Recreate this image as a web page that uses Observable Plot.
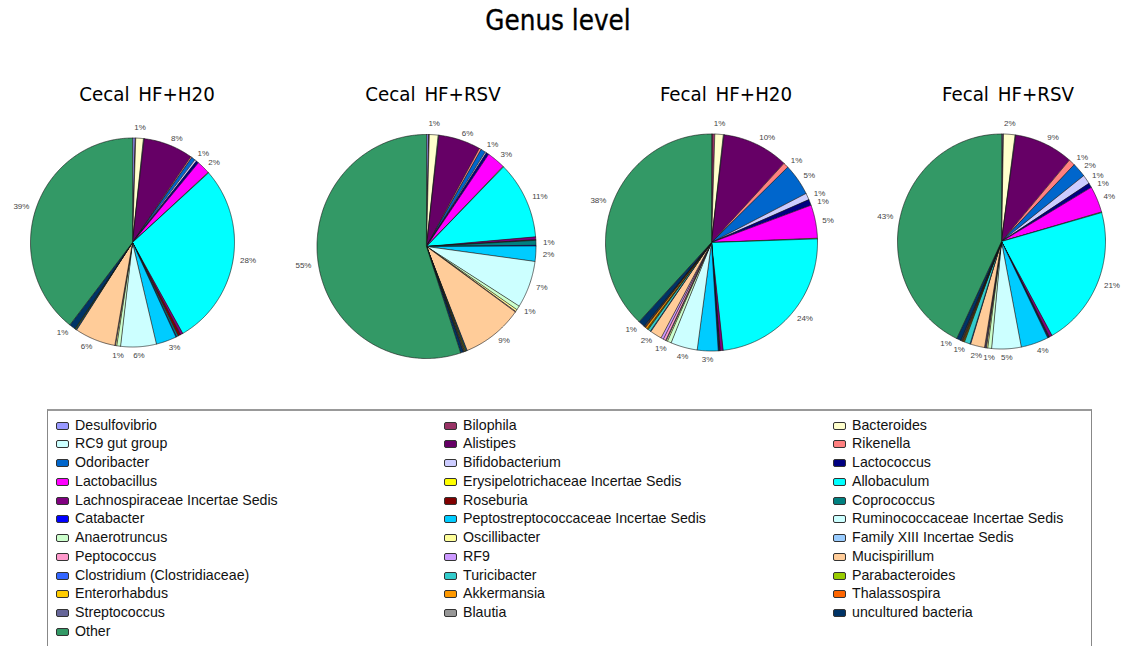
<!DOCTYPE html>
<html><head><meta charset="utf-8">
<script src="https://cdn.jsdelivr.net/npm/d3@7"></script>
<script src="https://cdn.jsdelivr.net/npm/@observablehq/plot@0.6"></script>
<style>
body{margin:0;background:#fff;}
#page{position:relative;width:1123px;height:646px;overflow:hidden;background:#fff;}
.ttl{position:absolute;font-family:"DejaVu Sans Condensed","DejaVu Sans",sans-serif;color:#000;white-space:nowrap;transform:translateX(-50%);line-height:1;}
.pie{position:absolute;}
.pie svg{max-width:none !important;}
#legend{position:absolute;left:47px;top:409px;width:1045px;height:260px;border:1px solid #888;border-top:2px solid #999;box-sizing:border-box;background:#fff;}
.li{position:absolute;font-family:Arial,"Liberation Sans",sans-serif;font-size:14.2px;color:#111;white-space:nowrap;line-height:1;}
.sw{position:absolute;width:11px;height:6px;border:1px solid #333;border-radius:2px;}
</style></head><body><div id="page"></div>
<script>
const mainTitle = "Genus level";
const panels = ["Cecal HF+H20", "Cecal HF+RSV", "Fecal HF+H20", "Fecal HF+RSV"];
const genera = ["Desulfovibrio","Bilophila","Bacteroides","RC9 gut group","Alistipes","Rikenella","Odoribacter","Bifidobacterium","Lactococcus","Lactobacillus","Erysipelotrichaceae Incertae Sedis","Allobaculum","Lachnospiraceae Incertae Sedis","Roseburia","Coprococcus","Catabacter","Peptostreptococcaceae Incertae Sedis","Ruminococcaceae Incertae Sedis","Anaerotruncus","Oscillibacter","Family XIII Incertae Sedis","Peptococcus","RF9","Mucispirillum","Clostridium (Clostridiaceae)","Turicibacter","Parabacteroides","Enterorhabdus","Akkermansia","Thalassospira","Streptococcus","Blautia","uncultured bacteria","Other"];
const colors = ["#9999FF","#993366","#FFFFCC","#CCFFFF","#660066","#FF8080","#0066CC","#CCCCFF","#000080","#FF00FF","#FFFF00","#00FFFF","#800080","#800000","#008080","#0000FF","#00CCFF","#CCFFFF","#CCFFCC","#FFFF99","#99CCFF","#FF99CC","#CC99FF","#FFCC99","#3366FF","#33CCCC","#99CC00","#FFCC00","#FF9900","#FF6600","#666699","#969696","#003366","#339966"];
// values (%) in the order of genera
const cecalH2O = [0.4,0.1,1.2,0.1,7.8,0.2,0.6,0.3,0.4,2.1,0.1,28.2,0.4,0.4,0.3,0.1,3.2,5.6,0.6,0.2,0,0,0.1,6.4,0.1,0.1,0.1,0,0,0,0,0,1.0,39.2];
const cecalRSV = [0.3,0.1,1.3,0.1,6.2,0.3,0.7,0.2,0.4,2.7,0.1,11.2,0.4,0.1,0.7,0.1,2.2,6.8,0.6,0.3,0,0.1,0,9.0,0.1,0.1,0.1,0.1,0,0,0.1,0.1,0.4,55.0];
const fecalH2O = [0.1,0.4,1.3,0.1,10.2,0.8,4.8,1.0,0.9,5.0,0.1,24.0,0.45,0.1,0.1,0.1,3.2,4.1,0.6,0.2,0.1,0.4,0.4,1.8,0.1,0.4,0.1,0.1,0.3,0.1,0.1,0.1,1.0,38.4];
const fecalRSV = [0.2,0.1,1.8,0.1,9.2,1.0,2.2,1.4,0.7,4.0,0.1,21.4,0.45,0.1,0.1,0.1,4.3,4.6,0.6,0.2,0.1,0.1,0.1,2.2,0.1,0.9,0.1,0.1,0.1,0.1,0.1,0.1,0.7,43.2];
const series = [cecalH2O, cecalRSV, fecalH2O, fecalRSV];

// layout (pixels)
const layout = [
  {cx:131.5, cy:242, rx:102, ry:104.5, tx:147},
  {cx:425.5, cy:246, rx:109.5, ry:112, tx:433},
  {cx:711, cy:241.5, rx:106, ry:108.5, tx:726},
  {cx:1001, cy:240.5, rx:104, ry:107.5, tx:1008}
];
const W = 290, H = 290;
const page = document.getElementById("page");

function addTitle(text, x, top, size) {
  const d = document.createElement("div");
  d.className = "ttl";
  d.textContent = text;
  d.style.left = x + "px"; d.style.top = top + "px"; d.style.fontSize = size + "px";
  page.appendChild(d);
  return d;
}
const mt = addTitle(mainTitle, 558, 7, 27.5);
mt.style.webkitTextStroke = "0.3px #000";

const FS = 8, LH = 8;
const textW = t => (0.556 * (t.length - 1) + 0.889) * FS;

function placeLabels(values, L) {
  const total = d3.sum(values);
  const arcs = d3.pie().sort(null).value(d => d)(values);
  const placed = [];
  arcs.forEach((a, i) => {
    const pct = Math.round(values[i] / total * 100);
    if (pct < 1) return;
    const text = pct + "%";
    const m = (a.startAngle + a.endAngle) / 2;
    const s = Math.sin(m), c = Math.cos(m);
    const w = textW(text), h = LH;
    const cat = s > 0.3 ? "R" : s < -0.3 ? "L" : c > 0 ? "T" : "B";
    const off = cat === "B" ? 5 : 7;
    const ax = s * (L.rx + off), ay = -c * (L.ry + off);
    let x = ax, y = ay;
    if (cat === "R") x = ax + w / 2;
    if (cat === "L") x = ax - w / 2;
    if (cat === "T") y = ay - h / 2;
    if (cat === "B") y = ay + h / 2;
    const hit = (x, y) => placed.some(p => Math.abs(p.x - x) < (p.w + w) / 2 + 0.5 && Math.abs(p.y - y) < (p.h + h) / 2);
    const ell = yy => { const q = 1 - Math.pow(yy / (L.ry + 7), 2); return q > 0 ? (L.rx + 7) * Math.sqrt(q) : 0; };
    let k = 0;
    while (hit(x, y) && k < 60) {
      if (cat === "R") { y += 1; x = Math.max(x, ell(y) + w / 2); }
      else if (cat === "L") { y -= 1; x = Math.min(x, -ell(y) - w / 2); }
      else if (cat === "B") { x -= 1; }
      else { x += 1; }
      k++;
    }
    placed.push({x, y, w, h, text});
  });
  return placed.map(p => ({text: p.text, x: p.x / L.rx, y: -p.y / L.ry}));
}

series.forEach((values, p) => {
  const L = layout[p];
  const arcs = d3.pie().sort(null).value(d => d)(values);
  const poly = [];
  arcs.forEach((a, i) => {
    if (!(values[i] > 0)) return;
    const n = Math.max(2, Math.ceil((a.endAngle - a.startAngle) / 0.01));
    poly.push({name: genera[i], x: 0, y: 0});
    for (let k = 0; k <= n; k++) {
      const t = a.startAngle + (a.endAngle - a.startAngle) * k / n;
      poly.push({name: genera[i], x: Math.sin(t), y: Math.cos(t)});
    }
  });
  const labels = placeLabels(values, L);
  const plot = Plot.plot({
    width: W, height: H,
    margin: 0,
    style: {background: "transparent", overflow: "visible", maxWidth: "none"},
    x: {domain: [-W / 2 / L.rx, W / 2 / L.rx], axis: null},
    y: {domain: [-H / 2 / L.ry, H / 2 / L.ry], axis: null},
    color: {type: "ordinal", domain: genera, range: colors},
    marks: [
      Plot.line(poly, {x: "x", y: "y", z: "name", fill: "name", stroke: "#111", strokeWidth: 0.6, curve: "linear-closed", strokeLinejoin: "round"}),
      Plot.text(labels, {x: "x", y: "y", text: "text", fontSize: FS, fill: "#444", fontFamily: "Arial, 'Liberation Sans', sans-serif"})
    ]
  });
  const div = document.createElement("div");
  div.className = "pie";
  div.style.left = (L.cx - W / 2) + "px";
  div.style.top = (L.cy - H / 2) + "px";
  div.style.width = W + "px";
  div.style.height = H + "px";
  div.appendChild(plot);
  page.appendChild(div);
  const t = addTitle(panels[p], L.tx, 84, 20.3);
  t.style.wordSpacing = "3px";
});

// legend
const leg = document.createElement("div");
leg.id = "legend";
page.appendChild(leg);
const colText = [74, 462, 851];
genera.forEach((g, i) => {
  const col = i % 3, row = Math.floor(i / 3);
  const yc = 423.7 + row * 18.73;
  const sw = document.createElement("div");
  sw.className = "sw";
  sw.style.background = colors[i];
  sw.style.left = (colText[col] - 19 - 47) + "px";
  sw.style.top = (yc - 4 - 409) + "px";
  leg.appendChild(sw);
  const t = document.createElement("div");
  t.className = "li";
  t.textContent = g;
  t.style.left = (colText[col] - 47) + "px";
  t.style.top = (yc - 8 - 409) + "px";
  leg.appendChild(t);
});
</script></body></html>
